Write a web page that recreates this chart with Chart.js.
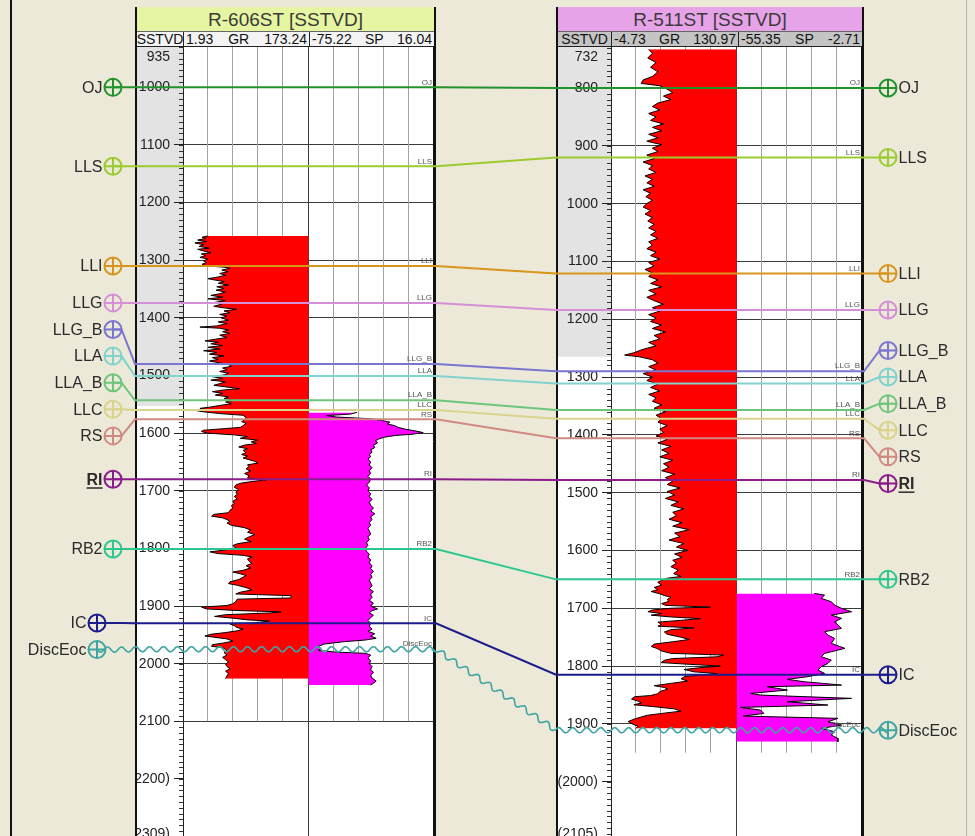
<!DOCTYPE html>
<html>
<head>
<meta charset="utf-8">
<title>R-606ST / R-511ST correlation</title>
<script src="https://cdn.jsdelivr.net/npm/chart.js@4.4.1/dist/chart.umd.min.js"></script>
<style>
  html, body { margin: 0; padding: 0; }
  body { width: 975px; height: 836px; position: relative; overflow: hidden; background: #ECE9D8;
         font-family: "Liberation Sans", Arial, sans-serif; }
  .edge { position: absolute; left: 10px; top: 0; width: 2px; height: 836px; background: #151515; }
  .edge.r { left: 966px; width: 1px; background: #B8B5A8; }
  .frame { position: absolute; top: 7px; height: 829px; box-sizing: border-box;
           border-left: 2px solid #111; border-right: 2px solid #111; background: #fff; }
  .title { position: absolute; top: 7px; height: 25px; box-sizing: border-box; border-bottom: 1px solid #666;
           text-align: center; font-size: 19px; line-height: 25px; color: #3a3a3a; white-space: nowrap; overflow: hidden; }
  .sub { position: absolute; top: 32px; height: 15px; box-sizing: border-box; border-bottom: 1px solid #222; }
  .cell { position: absolute; top: 0; height: 14px; box-sizing: border-box; display: flex; justify-content: space-between;
          font-size: 14px; line-height: 14px; color: #111; padding: 0 2px; overflow: hidden; white-space: nowrap; }
  .cell + .cell { border-left: 1px solid #222; }
  .cell.depth { justify-content: center; padding: 0; }
  canvas { position: absolute; }
  #overlay { left: 0; top: 0; z-index: 5; pointer-events: none; }
</style>
</head>
<body>
<div class="edge"></div>
<div class="edge r"></div>
<div class="frame" style="left:135px;width:301px"></div>
<div class="frame" style="left:556px;width:308px"></div>
<canvas id="w606" width="297" height="789" style="left:137px;top:47px"></canvas>
<canvas id="w511" width="304" height="789" style="left:558px;top:47px"></canvas>
<canvas id="overlay" width="975" height="836"></canvas>
<script>
// ---------------- R-606ST : gamma ray (GR) and spontaneous potential (SP) ----------------
const r606Title = 'R-606ST [SSTVD]';
const r606GrRange = [1.93, 173.24];
const r606SpRange = [-75.22, 16.04];
const r606GrDepth = [1258,1260,1262,1265,1267.5,1270,1273,1276,1279,1281,1284,1287,1289,1292,1295,1298,1301,1304,1307,1310,
  1312,1314,1317,1320,1323,1326,1329,1332,1334,1337,1340,1343,1346,1349,1352,1355,1358,1361,1364,1367,
  1370,1373,1376,1380,1383,1385,1388,1391,1394,1397,1400,1404,1407,1410,1414,1416,1418,1421,1424,1427,
  1430,1434,1437,1440,1442,1445,1448,1451,1454,1457,1460,1463,1466,1469,1472,1475,1478,1481,1484,1487,
  1490,1493,1496,1499,1502,1505,1508,1511,1514,1517,1520,1523,1525,1528,1531,1534,1537,1540,1543,1546,
  1549,1552,1555,1557,1559,1561,1563,1566,1569,1573,1577,1580,1583,1587,1590,1592,1595,1597,1600,1603,
  1606,1609,1612,1615,1618,1621,1624,1627,1630,1634,1637,1640,1643,1646,1649,1652,1655,1658,1662,1666,
  1670,1674,1678,1681,1684,1687,1690,1694,1698,1702,1706,1710,1714,1718,1722,1726,1730,1734,1738,1741,
  1744,1747,1750,1753,1756,1760,1764,1768,1772,1776,1780,1784,1788,1792,1795,1799,1803,1806,1809,1812,
  1815,1818,1822,1826,1830,1834,1838,1841,1844,1847,1850,1854,1858,1861,1864,1868,1872,1876,1879,1882,
  1886,1888,1892,1896,1899,1902,1905,1908,1910,1912,1915,1918,1921,1924,1926,1929,1931,1934,1937,1940,
  1943,1946,1949,1952,1954,1957,1961,1964,1967,1970,1972,1975,1978,1981,1985,1989,1993,1997,2001,2005,
  2009,2013,2017,2021,2026];
const r606GrValue = [36.4,28,33,22,34,18.2,30,24,38,22,30,40,27,33,25,36,30,34,28,36,
  58,66,55,63,52,60,50,36,44,58,50,64,48,58,47,60,52,40,56,36,
  60,46,55,44,60,75,58,66,52,62,54,64,50,62,48,25,52,64,56,66,
  52,62,46,32,50,40,56,36,52,30,48,38,58,42,50,38,52,64,68,56,
  62,52,64,58,42,56,40,60,52,44,62,79,58,42,56,46,64,58,72,60,
  68,52,38,25,34,20.5,30,52,84,88,86,82,88,84,80,60,30,27,35,72,
  90,80,104,95,102,85,78,90,84,88,82,90,84,92,100,104,90,92,88,94,
  86,92,90,116,96,80,74,72,78,74,76,72,76,70,72,68,70,66,64,44,
  41,56,62,66,62,68,86,94,90,100,92,86,95,76,70,74,58,38.6,50,84,
  96,90,92,96,88,94,84,70,80,88,84,78,66,64,76,88,96,80,74,149.7,
  149,76,74,70,62,27.3,34,80,136,120,60,45,70,90,120,100,66,72,74.9,84,
  76,60,40,31.8,44,62,70,58,42,41,56,60,62,58,62,56,60,64,60,62,
  66,60,64,62,60];
const r606SpDepth = [1564,1567,1569.5,1572,1575,1578,1581,1584,1587,1590,1593,1596,1599,1602,1604,1607,1610,1613,1617,1621,
  1625,1629,1633,1637,1641,1645,1650,1655,1660,1665,1670,1675,1680,1685,1690,1695,1700,1705,1710,1715,
  1720,1725,1730,1735,1740,1745,1750,1755,1760,1765,1770,1775,1780,1785,1790,1795,1800,1805,1810,1815,
  1820,1825,1830,1835,1840,1845,1850,1855,1860,1865,1870,1875,1880,1885,1890,1895,1900,1905,1908,1912,
  1916,1920,1925,1930,1935,1940,1944,1948,1952,1956,1959,1962,1966,1970,1974,1977,1980,1982,1985,1990,
  1995,2000,2005,2010,2015,2020,2025,2030,2034,2037];
const r606SpValue = [-40,-45,-62,-55,-30,-22,-16,-18,-12.5,-10,-5,2,8.2,0,-12,-20,-24,-26.5,-25,-28,
  -27,-30,-29,-31,-30,-32,-30,-31,-29,-31,-30,-32,-30,-31,-33,-31,-32,-30,-31,-29,
  -31,-30,-28,-30,-27,-30,-29,-31,-30,-32,-31,-30,-32,-31,-33,-32,-34,-33,-31,-32,
  -30,-31,-29,-30,-28,-30,-29,-31,-30,-29,-31,-28,-30,-29,-31,-28,-30,-25,-29,-31,
  -28,-30,-32,-30,-31,-29,-32,-27,-30,-26,-34,-50,-64,-68,-66,-68,-55,-34,-30,-32,
  -30,-31,-29,-30,-28,-30,-29,-26,-28,-30];
const r606Ticks = [1000,1100,1200,1300,1400,1500,1600,1700,1800,1900,2000,2100,2200];
const r606View = [930, 2299];
const r606ViewLabels = ['935', '(2309)'];
const r606LogEnd = 2100;
const r606ShadeEnd = 1553;

// ---------------- R-511ST ----------------
const r511Title = 'R-511ST [SSTVD]';
const r511GrRange = [-4.73, 130.97];
const r511SpRange = [-55.35, -2.71];
const r511GrDepth = [733,740,748,756,764,772,780,786,792,796,802,808,814,820,826,832,838,844,850,856,
  862,868,874,880,886,892,898,904,910,916,922,928,934,940,946,952,958,964,970,976,
  982,988,994,1000,1006,1012,1018,1024,1030,1036,1042,1048,1054,1060,1066,1072,1078,1084,1090,1096,
  1102,1108,1114,1120,1126,1132,1138,1144,1150,1156,1162,1168,1174,1180,1186,1192,1198,1204,1210,1216,
  1222,1228,1234,1240,1246,1252,1258,1262,1265,1270,1276,1282,1288,1294,1300,1306,1312,1318,1324,1330,
  1336,1342,1348,1354,1360,1366,1372,1378,1384,1390,1396,1402,1408,1414,1420,1426,1432,1438,1444,1450,
  1456,1462,1468,1474,1480,1486,1492,1498,1504,1510,1516,1522,1528,1534,1540,1546,1552,1558,1564,1570,
  1576,1582,1588,1594,1600,1606,1612,
  1617,1622,1628,1634,1640,1645,1648,1652,1655,1660,1664,1668,1671,1675,1678,1681,1685,1688,1692,1695,
  1698,1700,1703,1706,1709,1712,1715,1718,1721,1724,1728,1731,1734,1737,1741,1745,1750,1754,1758,1762,
  1766,1770,1774,1778,1781,1784,1787,1790,1794,1797,1800,1803,1806,1810,1813,1816,1818,1822,1826,1830,
  1834,1837,1840,1844,1848,1851,1853,1857,1861,1864,1867,1870,1874,1878,1882,1885,1888,1892,1896,1900,
  1904,1908];
const r511GrValue = [36,40,35,44,38,46,40,30,28,48,56,62,52,60,46,40,48,36,44,38,
  52,40,50,36,46,34,50,40,46,34,42,30,40,36,44,32,40,34,42,30,
  38,33,40,34,30,38,32,40,35,42,36,44,38,46,36,40,34,44,38,48,
  36,42,32,40,36,46,38,50,36,44,34,42,52,40,48,36,44,38,50,40,
  54,42,48,36,44,30,20,10,26,40,46,36,44,30,40,34,46,38,48,36,
  44,40,50,42,54,44,50,46,56,48,52,44,56,46,60,50,58,48,62,52,
  58,50,64,54,62,56,70,56,64,54,68,60,74,62,66,58,72,62,80,64,
  70,58,74,66,78,64,72,
  62,66,60,68,63,71,56,50,45.8,50,42,46,38.7,48,53,60,56,58,50,54,
  102.8,60,40,35.2,50,38.7,60,92,70,46,50,46,85,60,53,56,70.8,80,62,42,
  38.7,45.8,50,60,117,110,62,53,49.4,80,113.5,90,74.4,85,110,90,75,71,78,60,
  42,53,56.5,48,45.8,38,21,17.4,25,28,20,40,63.7,70.8,50,35,28,20,13.8,18,
  24.5,22];
const r511SpDepth = [1674.3,1677.2,1682.9,1688.7,1694.5,1700.2,1706,1711.8,1717.5,1723.3,1729.1,1734.8,1740.6,1746.4,1752.1,1760.8,1769.4,1778.1,1783.8,1789.6,
  1795.4,1801.1,1806.9,1812.7,1818.4,1823,1827.1,1832.9,1835.7,1841.5,1847.3,1850.2,1855.9,1861.7,1867.5,1871.5,1876.1,1881.9,1886.5,1890.5,
  1896.3,1902.1,1907.8,1913.6,1919.4,1925.2,1930.9];
const r511SpValue = [-22.7,-18.4,-19.8,-15.6,-14.2,-11.3,-7.1,-15.6,-11.3,-14.2,-12.8,-11.3,-18.4,-17,-14.2,-15.6,-9.9,-18.4,-19.8,-15.6,
  -17,-19.8,-21.2,-18.4,-25.5,-34,-27,-11.3,-42.4,-34,-49.5,-45.3,-7.1,-34,-17,-53.8,-45.3,-43.9,-52.4,-12.8,
  -17,-11.3,-19.8,-14.2,-15.6,-12.8,-12.8];
const r511Ticks = [800,900,1000,1100,1200,1300,1400,1500,1600,1700,1800,1900,2000];
const r511View = [729, 2094];
const r511ViewLabels = ['732', '(2105)'];
const r511LogEnd = 1950;
const r511ShadeEnd = 1265;

// ---------------- formation tops (SSTVD in each well) ----------------
const topNames  = ['OJ','LLS','LLI','LLG','LLG_B','LLA','LLA_B','LLC','RS','RI','RB2','IC','DiscEoc'];
const r606Tops  = [1000,1137,1310,1374,1480,1501,1543,1560,1576,1680,1801,1930,1975];
const r511Tops  = [800,920,1121,1184,1290,1311,1357,1372,1406,1478,1650,1815,1911];
const topColors = ['#22922E','#9BCB2F','#D8951C','#D58FD6','#7A76D0','#82D2CF','#6DC57C','#D9D38C','#D08A82','#8B1C8B','#2CC790','#1C1C8C','#3FA5A2'];

const FONT = '"Liberation Sans", Arial, sans-serif';

// ---------------- headers ----------------
function buildHeader(left, widths, title, fill, subFill, cells) {
  const total = widths.reduce((a, b) => a + b, 0);
  const t = document.createElement('div');
  t.className = 'title';
  t.style.cssText = `left:${left}px;width:${total}px;background:${fill}`;
  t.textContent = title;
  document.body.appendChild(t);
  const s = document.createElement('div');
  s.className = 'sub';
  s.style.cssText = `left:${left}px;width:${total}px;background:${subFill}`;
  let x = 0;
  cells.forEach((parts, i) => {
    const c = document.createElement('div');
    c.className = 'cell' + (i === 0 ? ' depth' : '');
    c.style.left = x + 'px';
    c.style.width = widths[i] + 'px';
    parts.forEach(p => { const sp = document.createElement('span'); sp.textContent = String(p); c.appendChild(sp); });
    s.appendChild(c);
    x += widths[i];
  });
  document.body.appendChild(s);
}
buildHeader(137, [46, 126, 125], r606Title, '#E6F5A1', '#F3F3F3',
  [['SSTVD'], [r606GrRange[0], 'GR', r606GrRange[1]], [r606SpRange[0], 'SP', r606SpRange[1]]]);
buildHeader(558, [53, 127, 124], r511Title, '#E7A3E7', '#C4C4C4',
  [['SSTVD'], [r511GrRange[0], 'GR', r511GrRange[1]], [r511SpRange[0], 'SP', r511SpRange[1]]]);

// ---------------- well track charts ----------------
function trackPlugin(w) {
  return {
    id: 'track',
    beforeDraw(chart) {
      const { ctx, chartArea: a, scales: { y } } = chart;
      ctx.save();
      ctx.fillStyle = '#FFFFFF';
      ctx.fillRect(0, 0, chart.width, chart.height);
      ctx.fillStyle = '#E3E3E3';
      ctx.fillRect(0, a.top, a.left, y.getPixelForValue(w.shadeEnd) - a.top);
      ctx.restore();
    },
    beforeDatasetsDraw(chart) {
      const { ctx, chartArea: a, scales: { y, xGR } } = chart;
      const [g0, g1] = w.grRange;
      const step = (g1 - g0) / 5;
      const yEnd = Math.min(a.bottom, y.getPixelForValue(w.logEnd));
      ctx.save();
      ctx.lineWidth = 1;
      for (let k = 1; k <= 10; k++) {
        const x = Math.round(xGR.getPixelForValue(g0 + k * step)) - 0.5;
        const full = k === 5 || k === 10;
        ctx.strokeStyle = k === 10 ? '#111' : (k === 5 ? '#3C3C3C' : '#A2A2A2');
        ctx.beginPath();
        ctx.moveTo(x, a.top);
        ctx.lineTo(x, full ? a.bottom : yEnd);
        ctx.stroke();
      }
      // minor depth ticks every 10
      ctx.strokeStyle = '#333';
      for (let d = Math.ceil(y.min / 10) * 10; d <= y.max; d += 10) {
        const py = Math.round(y.getPixelForValue(d)) + 0.5;
        ctx.beginPath();
        ctx.moveTo(a.left - 4, py);
        ctx.lineTo(a.left, py);
        ctx.stroke();
      }
      // view limits written at the top and bottom of the depth column
      ctx.fillStyle = '#222';
      ctx.font = '14px ' + FONT;
      ctx.textAlign = 'right';
      ctx.textBaseline = 'top';
      ctx.fillText(w.viewLabels[0], a.left - 13, a.top + 3);
      ctx.fillText(w.viewLabels[1], a.left - 13, a.bottom - 9);
      ctx.restore();
    }
  };
}

function makeWell(canvasId, w, axisWidth) {
  const [grMin, grMax] = w.grRange;
  const [spMin, spMax] = w.spRange;
  const pts = (ds, vs) => ds.map((d, i) => ({ x: vs[i], y: d }));
  return new Chart(document.getElementById(canvasId), {
    type: 'line',
    data: {
      datasets: [
        { label: 'GR', xAxisID: 'xGR', yAxisID: 'y', data: pts(w.grDepth, w.grValue),
          borderColor: '#000', borderWidth: 1, backgroundColor: '#FF0000', fill: { value: grMax }, pointRadius: 0 },
        { label: 'SP', xAxisID: 'xSP', yAxisID: 'y', data: pts(w.spDepth, w.spValue),
          borderColor: '#000', borderWidth: 1, backgroundColor: '#FF00FF', fill: { value: spMin }, pointRadius: 0 }
      ]
    },
    options: {
      indexAxis: 'y',
      responsive: false,
      animation: false,
      devicePixelRatio: 1,
      layout: { padding: 0, autoPadding: false },
      elements: { line: { tension: 0 } },
      plugins: { legend: { display: false }, tooltip: { enabled: false } },
      scales: {
        // GR occupies the left half of the track area, SP the right half
        xGR: { type: 'linear', axis: 'x', display: false, min: grMin, max: grMin + 2 * (grMax - grMin) },
        xSP: { type: 'linear', axis: 'x', display: false, min: spMin - (spMax - spMin), max: spMax },
        y: {
          type: 'linear', position: 'left', reverse: true, min: w.view[0], max: w.view[1],
          afterBuildTicks: s => { s.ticks = w.ticks.map(v => ({ value: v })); },
          afterFit: s => { s.width = axisWidth; s.paddingTop = 0; s.paddingBottom = 0; },
          ticks: {
            autoSkip: false, padding: 4, color: '#222', font: { family: FONT, size: 14 },
            callback: v => (v > w.logEnd ? '(' + v + ')' : String(v))
          },
          grid: {
            color: c => (c.tick && c.tick.value > w.logEnd ? 'rgba(0,0,0,0)' : '#3A3A3A'),
            tickColor: '#222', tickLength: 9, lineWidth: 1
          },
          border: { display: true, color: '#222', width: 1 }
        }
      }
    },
    plugins: [trackPlugin(w)]
  });
}

const well606 = { grRange: r606GrRange, spRange: r606SpRange, grDepth: r606GrDepth, grValue: r606GrValue,
  spDepth: r606SpDepth, spValue: r606SpValue, ticks: r606Ticks, view: r606View, viewLabels: r606ViewLabels,
  logEnd: r606LogEnd, shadeEnd: r606ShadeEnd };
const well511 = { grRange: r511GrRange, spRange: r511SpRange, grDepth: r511GrDepth, grValue: r511GrValue,
  spDepth: r511SpDepth, spValue: r511SpValue, ticks: r511Ticks, view: r511View, viewLabels: r511ViewLabels,
  logEnd: r511LogEnd, shadeEnd: r511ShadeEnd };

const chart606 = makeWell('w606', well606, 46);
const chart511 = makeWell('w511', well511, 53);

// ---------------- correlation overlay ----------------
const frame606 = { left: 135, right: 436, top: 47 };
const frame511 = { left: 556, right: 864, top: 47 };
const markerLeftX = 113, markerRightX = 888, markerR = 8.5, labelGap = 26.6;
// the two lowest surfaces sit a little further out in the left margin
const leftIndent = { IC: 16, DiscEoc: 16 };

// keep marker symbols apart: neighbouring markers are merged into blocks centred on their tops;
// a block left with little room above it closes up under the marker above
function spreadLabels(targets, gap) {
  let blocks = targets.map(t => ({ n: 1, sum: t }));
  const centred = b => b.sum / b.n - (b.n - 1) * gap / 2;
  let merged = true;
  while (merged) {
    merged = false;
    for (let k = 0; k + 1 < blocks.length; k++) {
      const a = blocks[k], b = blocks[k + 1];
      if (centred(b) - (centred(a) + (a.n - 1) * gap) < gap) {
        blocks.splice(k, 2, { n: a.n + b.n, sum: a.sum + b.sum });
        merged = true;
        break;
      }
    }
  }
  const out = [];
  let prevBottom = -Infinity;
  blocks.forEach(b => {
    let top = centred(b);
    if (b.n > 1 && top - prevBottom < 1.5 * gap) top = prevBottom + gap;
    for (let j = 0; j < b.n; j++) out.push(top + j * gap);
    prevBottom = top + (b.n - 1) * gap;
  });
  return out;
}

const yLeft = r606Tops.map(d => frame606.top + chart606.scales.y.getPixelForValue(d));
const yRight = r511Tops.map(d => frame511.top + chart511.scales.y.getPixelForValue(d));
const slotLeft = spreadLabels(yLeft, labelGap);
const slotRight = spreadLabels(yRight, labelGap);
const xLeft = topNames.map(n => markerLeftX - (leftIndent[n] || 0));
const waveIndex = topNames.indexOf('DiscEoc');

const corrSets = topNames.map((name, i) => ({
  label: name,
  data: [
    { x: xLeft[i], y: slotLeft[i] }, { x: markerLeftX + markerR, y: slotLeft[i] },
    { x: frame606.left, y: yLeft[i] }, { x: frame606.right, y: yLeft[i] },
    { x: frame511.left, y: yRight[i] }, { x: frame511.right, y: yRight[i] },
    { x: markerRightX - markerR, y: slotRight[i] }, { x: markerRightX, y: slotRight[i] }
  ],
  showLine: i !== waveIndex,
  borderColor: topColors[i], borderWidth: 2, pointRadius: 0
}));
const markerPts = topNames.map((n, i) => ({ x: xLeft[i], y: slotLeft[i] }))
  .concat(topNames.map((n, i) => ({ x: markerRightX, y: slotRight[i] })));
const markerCols = topColors.concat(topColors);

const overlayPlugin = {
  id: 'corrLabels',
  beforeDatasetsDraw(chart) {
    // wavy unconformity line through the DiscEoc path
    const pts = chart.getDatasetMeta(waveIndex).data.map(p => ({ x: p.x, y: p.y }));
    const ctx = chart.ctx;
    ctx.save();
    ctx.strokeStyle = topColors[waveIndex];
    ctx.lineWidth = 1.6;
    ctx.beginPath();
    let s = 0, first = true;
    for (let i = 0; i < pts.length - 1; i++) {
      const p = pts[i], q = pts[i + 1];
      const dx = q.x - p.x, dy = q.y - p.y, L = Math.hypot(dx, dy);
      if (!L) continue;
      const nx = -dy / L, ny = dx / L;
      for (let t = 0; t <= L; t += 1) {
        const off = 2.6 * Math.sin(2 * Math.PI * (s + t) / 14);
        const x = p.x + dx * t / L + nx * off, y = p.y + dy * t / L + ny * off;
        if (first) { ctx.moveTo(x, y); first = false; } else ctx.lineTo(x, y);
      }
      s += L;
    }
    ctx.stroke();
    ctx.restore();
  },
  afterDatasetsDraw(chart) {
    const ctx = chart.ctx;
    ctx.save();
    // small names just above each line at the right side of both wells
    ctx.font = '8px ' + FONT;
    ctx.fillStyle = '#555';
    ctx.textAlign = 'right';
    ctx.textBaseline = 'bottom';
    topNames.forEach((n, i) => {
      ctx.fillText(n, frame606.right - 4, yLeft[i] - 1);
      ctx.fillText(n, frame511.right - 4, yRight[i] - 1);
    });
    // marker names in the margins
    ctx.fillStyle = '#2a2a2a';
    ctx.textBaseline = 'middle';
    topNames.forEach((n, i) => {
      const bold = n === 'RI';
      ctx.font = (bold ? 'bold ' : '') + '16px ' + FONT;
      const wdt = ctx.measureText(n).width;
      ctx.textAlign = 'right';
      const lx = xLeft[i] - markerR - 2;
      ctx.fillText(n, lx, slotLeft[i] + 1);
      ctx.textAlign = 'left';
      const rx = markerRightX + markerR + 2;
      ctx.fillText(n, rx, slotRight[i] + 1);
      if (bold) {
        ctx.fillRect(lx - wdt, slotLeft[i] + 8, wdt, 1.5);
        ctx.fillRect(rx, slotRight[i] + 8, wdt, 1.5);
      }
    });
    ctx.restore();
  }
};

new Chart(document.getElementById('overlay'), {
  type: 'scatter',
  data: {
    datasets: corrSets.concat([
      { label: 'ring', data: markerPts, pointStyle: 'circle', pointRadius: markerR, pointBorderWidth: 2,
        pointBorderColor: markerCols, pointBackgroundColor: 'rgba(0,0,0,0)' },
      { label: 'cross', data: markerPts, pointStyle: 'cross', pointRadius: markerR, pointBorderWidth: 2,
        pointBorderColor: markerCols }
    ])
  },
  options: {
    responsive: false, animation: false, devicePixelRatio: 1,
    layout: { padding: 0, autoPadding: false },
    plugins: { legend: { display: false }, tooltip: { enabled: false } },
    scales: {
      x: { type: 'linear', display: false, min: 0, max: 975 },
      y: { type: 'linear', display: false, min: 0, max: 836, reverse: true }
    }
  },
  plugins: [overlayPlugin]
});
</script>
</body>
</html>
